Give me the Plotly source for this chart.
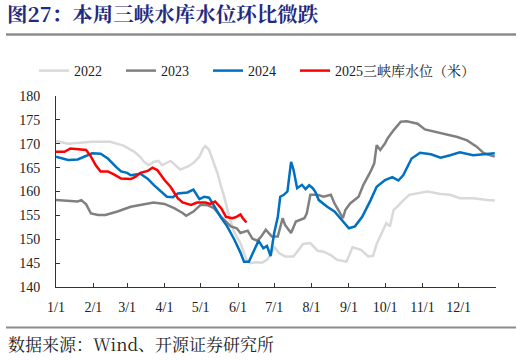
import plotly.graph_objects as go
import pandas as pd

# ---------------- data (day offset from 1/1, water level in m) ----------------
days_2022 = [0, 10, 20, 30, 45, 56, 65, 70, 73, 77, 81, 85, 88, 95, 103, 110, 115, 119, 122, 124,
             127, 131, 134, 137, 140, 143, 147, 150, 153, 156, 158, 161, 167, 171, 175, 179, 181,
             185, 190, 197, 205, 211, 217, 222, 228, 233, 241, 246, 253, 259, 263, 266, 271, 274,
             277, 280, 283, 287, 293, 300, 308, 319, 327, 335, 346, 358, 364]
vals_2022 = [170.6, 170.0, 170.2, 170.4, 170.4, 169.6, 168.3, 167.2, 166.2, 165.5, 166.2, 166.4,
             165.5, 166.4, 164.6, 165.3, 166.2, 167.3, 169.0, 169.5, 168.7, 165.9, 163.8, 161.0,
             158.5, 155.4, 152.0, 150.5, 149.2, 147.1, 145.7, 145.0, 145.2, 145.1, 145.7, 147.1,
             148.5, 147.1, 146.4, 146.4, 149.0, 149.2, 147.6, 147.4, 146.7, 145.7, 145.3, 148.3,
             147.8, 146.4, 146.5, 149.0, 152.0, 153.4, 152.7, 156.1, 156.8, 157.9, 159.3, 159.7,
             160.0, 159.5, 159.3, 158.6, 158.6, 158.2, 158.1]

days_2023 = [0, 10, 18, 21, 25, 29, 35, 41, 51, 62, 73, 81, 90, 98, 105, 108, 114, 120, 126, 131,
             137, 145, 150, 153, 159, 163, 167, 170, 174, 179, 184, 188, 190, 195, 199, 206, 208,
             211, 217, 222, 228, 231, 235, 238, 240, 244, 251, 255, 261, 264, 266, 269, 273, 275,
             280, 286, 291, 300, 306, 319, 333, 341, 349, 355, 364]
vals_2023 = [158.2, 158.0, 157.9, 158.2, 157.3, 155.4, 155.1, 155.1, 155.8, 156.8, 157.4, 157.7,
             157.4, 156.5, 155.5, 154.9, 155.8, 157.2, 157.1, 156.5, 154.7, 152.7, 152.3, 151.3,
             151.8, 150.1, 149.7, 150.5, 152.0, 150.6, 150.6, 154.4, 153.0, 151.3, 153.7, 154.4,
             155.4, 159.3, 159.3, 158.9, 159.3, 157.5, 155.8, 154.4, 156.1, 157.5, 158.9, 161.4,
             164.2, 165.9, 169.7, 168.7, 170.1, 171.1, 172.8, 174.6, 174.7, 174.2, 173.0, 172.2,
             171.4, 170.7, 169.4, 168.0, 167.3]

days_2024 = [0, 10, 18, 26, 30, 37, 43, 50, 54, 59, 62, 70, 76, 81, 87, 92, 97, 101, 109, 114,
             119, 123, 127, 131, 137, 142, 148, 153, 156, 160, 164, 168, 172, 175, 178, 181, 184,
             186, 189, 192, 195, 197, 200, 204, 207, 210, 213, 215, 218, 225, 231, 237, 243, 248,
             254, 261, 266, 273, 279, 284, 288, 295, 302, 311, 319, 327, 335, 346, 358, 364]
vals_2024 = [167.3, 166.6, 166.7, 167.6, 168.0, 167.9, 166.9, 165.1, 164.2, 163.9, 163.4, 163.7,
             162.7, 161.4, 160.0, 158.9, 158.8, 159.6, 159.8, 160.4, 158.4, 158.9, 158.7, 157.0,
             154.5, 152.7, 149.9, 147.2, 145.3, 145.3, 147.6, 149.7, 148.1, 148.6, 146.5, 151.3,
             154.7, 158.9, 159.3, 160.0, 166.2, 164.6, 160.7, 161.4, 160.5, 161.3, 160.7, 160.0,
             158.2, 156.8, 155.8, 154.0, 152.3, 152.7, 154.7, 158.2, 161.0, 162.4, 163.0, 162.3,
             163.4, 166.9, 168.1, 167.8, 167.1, 167.6, 168.2, 167.6, 167.8, 168.0]

days_2025 = [0, 7, 12, 18, 25, 29, 33, 37, 43, 48, 54, 62, 66, 70, 76, 80, 84, 90, 95, 101, 105,
             112, 117, 124, 128, 132, 137, 141, 146, 149, 153, 155, 158]
vals_2025 = [168.3, 168.3, 169.0, 168.9, 168.7, 167.3, 165.5, 164.2, 164.2, 163.6, 162.7, 162.6,
             163.1, 163.9, 164.3, 165.0, 164.5, 162.4, 161.0, 158.6, 157.7, 157.2, 157.7, 157.7,
             157.4, 157.9, 156.5, 154.7, 154.4, 154.6, 155.2, 154.4, 153.5]

series_names = ["2022", "2023", "2024", "2025三峡库水位（米）"]
series_days = [days_2022, days_2023, days_2024, days_2025]
series_vals = [vals_2022, vals_2023, vals_2024, vals_2025]
series_colors = ["#d9d9d9", "#808080", "#0070c0", "#ff0000"]
series_legend = ["legend", "legend", "legend", "legend2"]

month_labels = ["1/1", "2/1", "3/1", "4/1", "5/1", "6/1", "7/1", "8/1", "9/1", "10/1",
                "11/1", "12/1", ""]
y_ticks = [140, 145, 150, 155, 160, 165, 170, 175, 180]

title_text = "图27：本周三峡水库水位环比微跌"
source_text = "数据来源：Wind、开源证券研究所"

# ---------------- figure ----------------
BASE = pd.Timestamp("2001-01-01")
W, H = 522, 360
L, R, T, B = 56, 26, 96, 73
PW, PH = W - L - R, H - T - B


def px_x(x):
    return (x - L) / PW


def px_y(y):
    return (H - B - y) / PH


SERIF = "Times New Roman, Liberation Serif, Noto Serif CJK SC, Noto Sans CJK SC, serif"
CJK = "Noto Serif CJK SC, Noto Sans CJK SC, sans-serif"

fig = go.Figure()
for name, d, v, c, lg in zip(series_names, series_days, series_vals, series_colors, series_legend):
    fig.add_trace(go.Scatter(
        x=[BASE + pd.Timedelta(days=k) for k in d], y=v, name=name, mode="lines",
        line=dict(color=c, width=2.5), hoverinfo="skip", legend=lg))

tickvals = list(pd.date_range("2001-01-01", "2002-01-01", freq="MS"))
legend_font = dict(family=SERIF, size=14, color="#222222")

fig.update_layout(
    width=W, height=H,
    margin=dict(l=L, r=R, t=T, b=B),
    paper_bgcolor="white", plot_bgcolor="white",
    font=dict(family=SERIF, size=14, color="#222222"),
    showlegend=True,
    legend=dict(orientation="h", x=px_x(34), xanchor="left", y=px_y(71), yanchor="middle",
                entrywidth=42, font=legend_font, bgcolor="rgba(0,0,0,0)", traceorder="normal"),
    legend2=dict(orientation="h", x=px_x(34 + 3 * 87), xanchor="left", y=px_y(71),
                 yanchor="middle", font=legend_font, bgcolor="rgba(0,0,0,0)"),
    title=dict(text="<b>" + title_text + "</b>", xref="container", yref="container",
               x=7 / W, xanchor="left", y=1 - 15 / H, yanchor="middle",
               font=dict(family=CJK, size=20.5, color="#1f2a80")),
    xaxis=dict(range=[BASE, pd.Timestamp("2002-01-01")], tickvals=tickvals, ticktext=month_labels,
               showgrid=False, zeroline=False, showline=True, linecolor="#333333", linewidth=1,
               ticks="inside", ticklen=4, tickcolor="#333333", ticklabelstandoff=7,
               tickfont=dict(family=SERIF, size=14, color="#222222")),
    yaxis=dict(range=[140, 180], tickvals=y_ticks, showgrid=False, zeroline=False,
               showline=True, linecolor="#333333", linewidth=1, ticks="inside", ticklen=4,
               tickcolor="#333333", ticklabelstandoff=12,
               tickfont=dict(family=SERIF, size=14, color="#222222")),
    shapes=[
        dict(type="line", xref="paper", yref="paper", x0=px_x(6), x1=px_x(516),
             y0=px_y(34.5), y1=px_y(34.5), line=dict(color="#8c8c8c", width=2.5)),
        dict(type="line", xref="paper", yref="paper", x0=px_x(6), x1=px_x(516),
             y0=px_y(327.5), y1=px_y(327.5), line=dict(color="#8c8c8c", width=2)),
    ],
    annotations=[
        dict(text=source_text, xref="paper", yref="paper", x=px_x(6), y=px_y(343),
             xanchor="left", yanchor="middle", showarrow=False,
             font=dict(family=CJK, size=17, color="#222222")),
    ],
)

fig.write_html("out.html", config={"displayModeBar": False},
               post_script="document.body.style.margin='0';")
